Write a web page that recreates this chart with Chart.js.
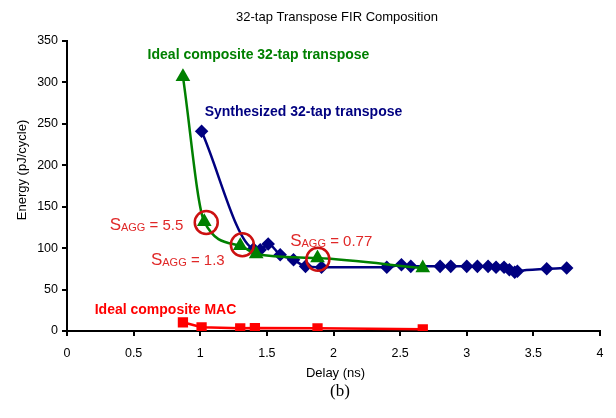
<!DOCTYPE html>
<html>
<head>
  <title>32-tap Transpose FIR Composition</title>
  <script src="https://cdn.jsdelivr.net/npm/chart.js"></script>
  <style>
    body { margin: 0; background: #fff; }
    #chartContainer { width: 616px; height: 418px; }
  </style>
</head>
<body>
  <div id="chartContainer">
    <canvas id="firChart" width="616" height="418"></canvas>
  </div>

  <script>
    // Ideal composite 32-tap transpose (green triangles)
    const idealTransposeDelay  = [0.87, 1.03, 1.30, 1.42, 1.88, 2.67];
    const idealTransposeEnergy = [307, 132, 103, 93, 88, 76];

    // Synthesized 32-tap transpose (blue diamonds)
    const synthDelay  = [1.01, 1.40, 1.45, 1.51, 1.60, 1.70, 1.79, 1.91, 2.40, 2.51, 2.58, 2.80, 2.88, 3.00, 3.08, 3.16, 3.22, 3.28, 3.32, 3.36, 3.38, 3.60, 3.75];
    const synthEnergy = [241, 99, 98, 105, 92, 86, 78, 77, 77, 80, 78, 78, 78, 78, 78, 78, 77, 77, 74, 71, 72, 75, 76];

    // Ideal composite MAC (red squares)
    const macDelay  = [0.87, 1.01, 1.30, 1.41, 1.88, 2.67];
    const macEnergy = [10.5, 4.5, 3.2, 3.6, 3.3, 2.0];

    // circled S_AGG points
    const saggDelay  = [1.045, 1.316, 1.883];
    const saggEnergy = [131, 104, 86.5];
    const saggValues = ['5.5', '1.3', '0.77'];

    const xTicks = [0, 0.5, 1, 1.5, 2, 2.5, 3, 3.5, 4];
    const yTicks = [0, 50, 100, 150, 200, 250, 300, 350];

    const toPoints = (xs, ys) => xs.map((x, i) => ({ x: x, y: ys[i] }));

    const FONT = 'Arial, "Liberation Sans", sans-serif';

    // draws titles, series labels and S_AGG notes
    const notesPlugin = {
      id: 'notes',
      afterDraw(chart) {
        const ctx = chart.ctx;
        const xs = chart.scales.x, ys = chart.scales.y;
        const area = chart.chartArea;
        ctx.save();

        ctx.fillStyle = '#000';
        ctx.textAlign = 'center';
        ctx.textBaseline = 'middle';
        ctx.font = '13px ' + FONT;
        ctx.fillText('32-tap Transpose FIR Composition', 337, 17);
        ctx.fillText('Delay (ns)', (area.left + area.right) / 2 + 2, 373);
        ctx.save();
        ctx.translate(22, 170);
        ctx.rotate(-Math.PI / 2);
        ctx.fillText('Energy (pJ/cycle)', 0, 0);
        ctx.restore();
        ctx.font = '17px "Liberation Serif", "Times New Roman", serif';
        ctx.fillText('(b)', 340, 392);

        // series labels
        ctx.textAlign = 'left';
        ctx.font = 'bold 14px ' + FONT;
        ctx.fillStyle = '#008000';
        ctx.fillText('Ideal composite 32-tap transpose', xs.getPixelForValue(0.605), ys.getPixelForValue(333));
        ctx.fillStyle = '#000080';
        ctx.fillText('Synthesized 32-tap transpose', xs.getPixelForValue(1.033), ys.getPixelForValue(264));
        ctx.fillStyle = '#ff0000';
        ctx.fillText('Ideal composite MAC', xs.getPixelForValue(0.208), ys.getPixelForValue(25.3));

        // S_AGG notes
        const anchors = [[0.32, 121.9], [0.63, 79.7], [1.675, 102.6]];
        ctx.fillStyle = '#e02828';
        ctx.textBaseline = 'alphabetic';
        anchors.forEach((a, i) => {
          let px = xs.getPixelForValue(a[0]);
          const py = ys.getPixelForValue(a[1]);
          ctx.font = '17px ' + FONT;
          ctx.fillText('S', px, py);
          px += ctx.measureText('S').width;
          ctx.font = '11px ' + FONT;
          ctx.fillText('AGG', px, py + 1);
          px += ctx.measureText('AGG').width;
          ctx.font = '15px ' + FONT;
          ctx.fillText(' = ' + saggValues[i], px, py);
        });
        ctx.restore();
      }
    };

    const ctx = document.getElementById('firChart').getContext('2d');
    new Chart(ctx, {
      type: 'scatter',
      data: {
        datasets: [
          {
            label: 'S_AGG',
            data: toPoints(saggDelay, saggEnergy),
            showLine: false,
            pointStyle: 'circle',
            pointRadius: 11.5,
            pointBorderWidth: 2.5,
            pointBorderColor: '#cc1111',
            pointBackgroundColor: 'rgba(0,0,0,0)'
          },
          {
            label: 'Ideal composite 32-tap transpose',
            data: toPoints(idealTransposeDelay, idealTransposeEnergy),
            showLine: true,
            borderColor: '#008000',
            borderWidth: 2.5,
            cubicInterpolationMode: 'monotone',
            pointStyle: 'triangle',
            pointRadius: 6,
            pointBackgroundColor: '#008000',
            pointBorderColor: '#008000'
          },
          {
            label: 'Synthesized 32-tap transpose',
            data: toPoints(synthDelay, synthEnergy),
            showLine: true,
            borderColor: '#000080',
            borderWidth: 2.5,
            cubicInterpolationMode: 'monotone',
            pointStyle: 'rectRot',
            pointRadius: 5,
            pointBackgroundColor: '#000080',
            pointBorderColor: '#000080'
          },
          {
            label: 'Ideal composite MAC',
            data: toPoints(macDelay, macEnergy),
            showLine: true,
            borderColor: '#ff0000',
            borderWidth: 2.5,
            tension: 0,
            pointStyle: 'rect',
            pointRadius: 5.5,
            pointBackgroundColor: '#ff0000',
            pointBorderColor: '#ff0000'
          }
        ]
      },
      options: {
        responsive: false,
        animation: false,
        layout: { padding: { left: 0, right: 16, top: 41, bottom: 0 } },
        plugins: {
          legend: { display: false },
          tooltip: { enabled: false },
          title: { display: false }
        },
        scales: {
          x: {
            type: 'linear',
            min: 0,
            max: 4,
            afterFit(scale) { scale.height = 87; },
            afterBuildTicks(scale) { scale.ticks = xTicks.map(v => ({ value: v })); },
            border: { display: true, color: '#000', width: 2 },
            grid: { drawOnChartArea: false, drawTicks: true, tickLength: 5, color: '#000', lineWidth: 2 },
            ticks: {
              color: '#000', font: { family: FONT, size: 12.5 }, padding: 10, maxRotation: 0,
              callback: v => String(v)
            }
          },
          y: {
            type: 'linear',
            min: 0,
            max: 350,
            afterFit(scale) { scale.width = 67; },
            afterBuildTicks(scale) { scale.ticks = yTicks.map(v => ({ value: v })); },
            border: { display: true, color: '#000', width: 2 },
            grid: { drawOnChartArea: false, drawTicks: true, tickLength: 5, color: '#000', lineWidth: 2 },
            ticks: { color: '#000', font: { family: FONT, size: 12.5 }, padding: 4, callback: v => String(v) }
          }
        }
      },
      plugins: [notesPlugin]
    });
  </script>
</body>
</html>
